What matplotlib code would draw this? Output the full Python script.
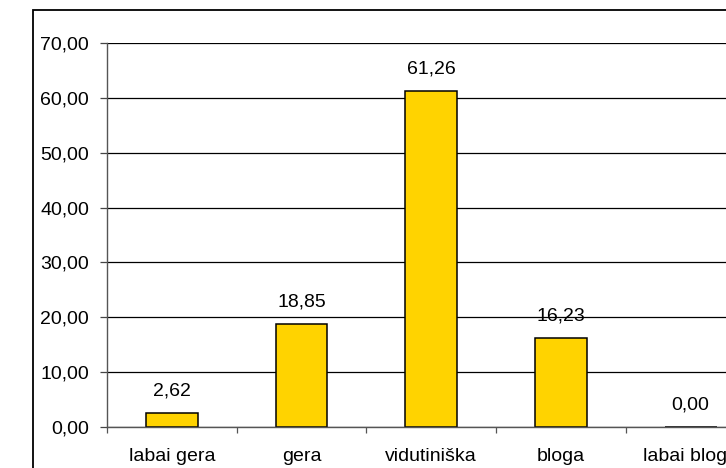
#! /usr/bin/env python3
#
# Bar chart of ratings (percent), Lithuanian labels

import matplotlib

matplotlib.use("Agg")

import matplotlib.pyplot as plt
import numpy as np
from matplotlib.patches import Rectangle
from matplotlib.ticker import FixedLocator, FuncFormatter, MultipleLocator

plt.rcParams["font.family"] = ["Liberation Sans", "DejaVu Sans"]

categories = ["labai gera", "gera", "vidutiniška", "bloga", "labai bloga"]
values = [2.62, 18.85, 61.26, 16.23, 0.00]


def comma(v: float) -> str:
    """Format with two decimals and a decimal comma."""
    return f"{v:.2f}".replace(".", ",")


W, H = 726, 468
FS = 14
fig = plt.figure(figsize=(W / 100, H / 100), dpi=100)

# Plot area runs off the right edge, as in the reference
left, right, bottom, top = 107, 755.5, 427, 43
ax = fig.add_axes([left / W, 1 - bottom / H, (right - left) / W, (bottom - top) / H])

x = np.arange(len(categories))
ax.bar(x, values, width=0.4, color="#FFD300", edgecolor="black", linewidth=1.1, zorder=3)

for xi, v in zip(x, values):
    ax.annotate(
        comma(v), (xi, v), xytext=(0, 15.5), textcoords="offset points",
        ha="center", va="center", fontsize=FS, zorder=4,
    )

ax.set_xlim(-0.5, len(categories) - 0.5)
ax.set_ylim(0, 70)
ax.yaxis.set_major_locator(MultipleLocator(10))
ax.yaxis.set_major_formatter(FuncFormatter(lambda v, _: comma(v)))
ax.grid(axis="y", color="black", linewidth=0.9, zorder=1)

ax.set_xticks(x)
ax.set_xticklabels(categories)
ax.xaxis.set_minor_locator(FixedLocator(np.arange(len(categories) + 1) - 0.5))
ax.tick_params(axis="x", which="major", length=0, pad=15, labelsize=FS)
ax.tick_params(axis="x", which="minor", length=4, width=0.9, color="#555555", direction="out")
ax.tick_params(axis="y", length=5, width=0.9, pad=8, labelsize=FS, color="#444444")

for side in ("top", "right"):
    ax.spines[side].set_visible(False)
for side in ("left", "bottom"):
    ax.spines[side].set_color("#555555")
    ax.spines[side].set_linewidth(1.0)
    ax.spines[side].set_zorder(5)

# Outer chart frame, cut off at right and bottom
frame_top = 1 - 10 / H
fig.patches.append(Rectangle(
    (33 / W, -0.2), 1.2, frame_top + 0.2,
    transform=fig.transFigure, fill=False, edgecolor="black", linewidth=1.3,
))

fig.savefig("out.png", dpi=100)
